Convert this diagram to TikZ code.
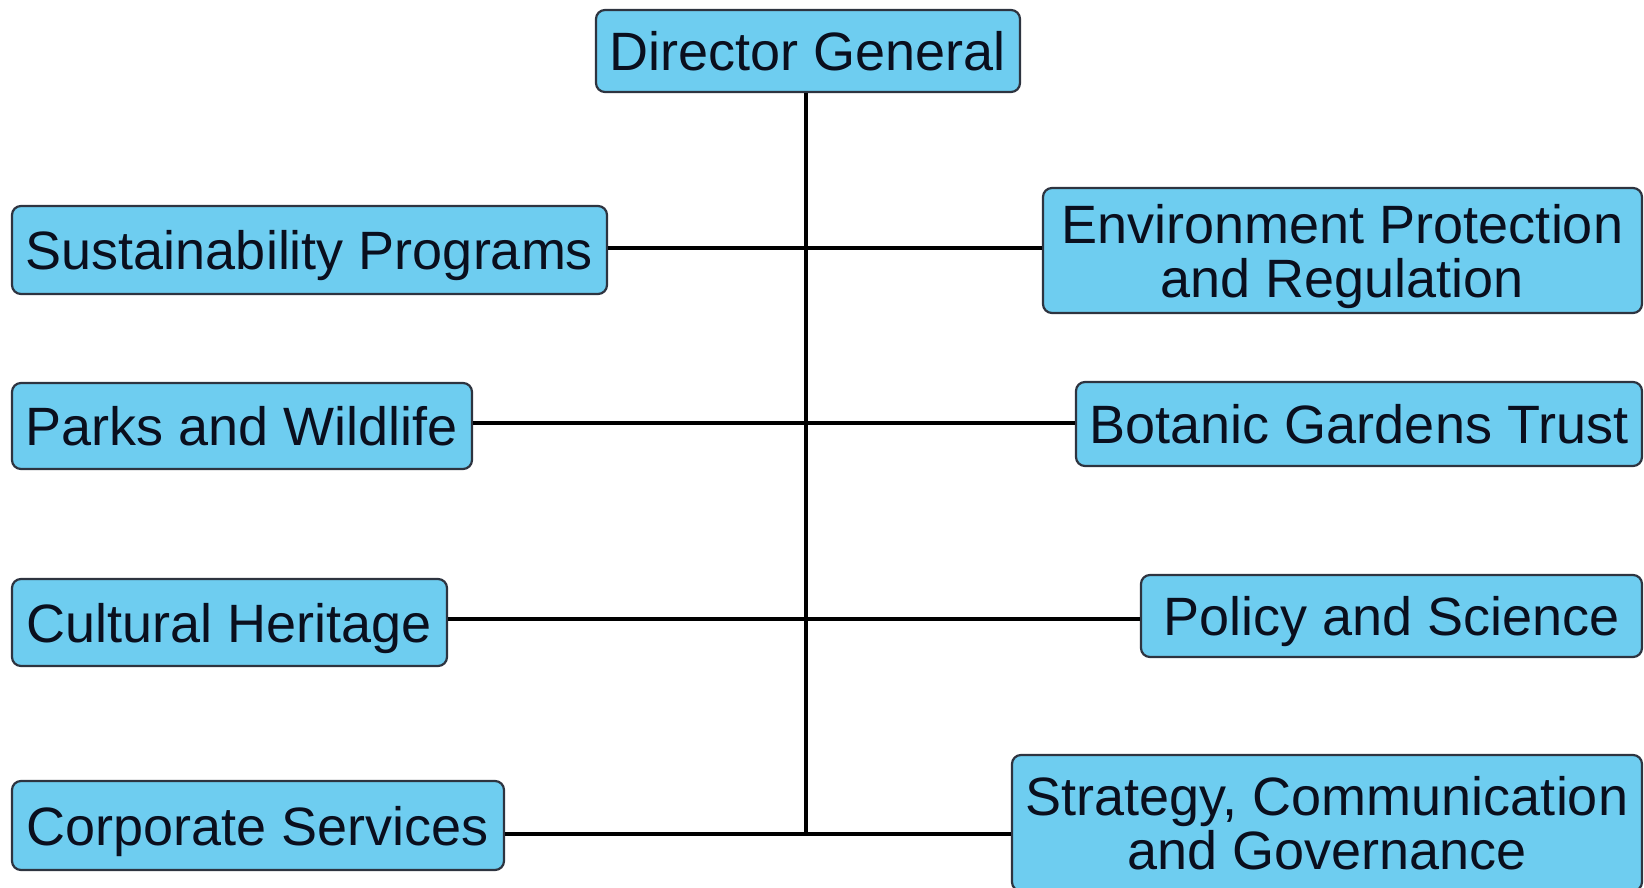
\documentclass[tikz,border=0pt]{standalone}
\usepackage{fontspec}
\setmainfont{Liberation Sans}
\definecolor{boxfill}{HTML}{6ECDF0}
\definecolor{boxline}{HTML}{2E3440}
\definecolor{txt}{HTML}{0A0F1E}
\tikzset{
  unit/.style={draw=boxline, line width=2.2pt, fill=boxfill, rounded corners=9pt,
    text=txt, inner sep=0pt, align=center, text depth=0pt,
    font=\fontsize{54}{54}\selectfont},
  link/.style={line width=4.6pt, black}
}
\begin{document}
\begin{tikzpicture}[x=1pt,y=-1pt]
\useasboundingbox (0,0) rectangle (1644,888);
\node[unit, minimum width=424pt, minimum height=82pt] (dg) at (808,51) {Director General};
\node[unit, minimum width=595pt, minimum height=88pt] (sp) at (309.5,250) {Sustainability Programs};
\node[unit, minimum width=599pt, minimum height=125pt] (ep) at (1342.5,250.5) {Environment Protection\\and Regulation};
\node[unit, minimum width=460pt, minimum height=86pt] (pw) at (242,426) {Parks and Wildlife};
\node[unit, minimum width=566pt, minimum height=84pt] (bg) at (1359,424) {Botanic Gardens Trust};
\node[unit, minimum width=435pt, minimum height=87pt] (ch) at (229.5,622.5) {Cultural Heritage};
\node[unit, minimum width=501pt, minimum height=82pt] (ps) at (1391.5,616) {Policy and Science};
\node[unit, minimum width=492pt, minimum height=89pt] (cs) at (258,825.5) {Corporate Services};
\node[unit, minimum width=630pt, minimum height=136pt] (sc) at (1327,823) {Strategy, Communication\\and Governance};
\coordinate (r1) at (806,248);
\coordinate (r2) at (806,423);
\coordinate (r3) at (806,619);
\coordinate (r4) at (806,834);
\draw[link] (dg.south -| r1) -- (r4);
\draw[link] (sp.east |- r1) -- (r1) -- (ep.west |- r1);
\draw[link] (pw.east |- r2) -- (r2) -- (bg.west |- r2);
\draw[link] (ch.east |- r3) -- (r3) -- (ps.west |- r3);
\draw[link] (cs.east |- r4) -- (r4) -- (sc.west |- r4);
\end{tikzpicture}
\end{document}
